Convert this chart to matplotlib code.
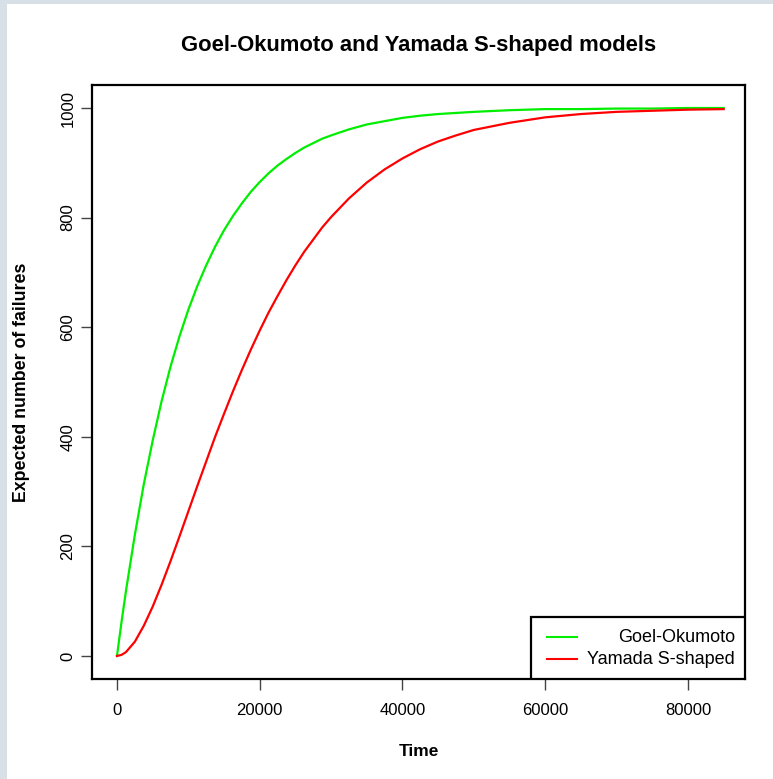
import matplotlib
matplotlib.use("Agg")
import matplotlib.pyplot as plt
from matplotlib.patches import Rectangle
from matplotlib.lines import Line2D

plt.rcParams['font.family'] = ['Liberation Sans', 'DejaVu Sans']

# Data
time = [0, 625, 1250, 2500, 3750, 5000, 6250, 7500, 8750, 10000, 11250, 12500,
        13750, 15000, 16250, 17500, 18750, 20000, 21250, 22500, 23750, 25000,
        26250, 27500, 28750, 30000, 32500, 35000, 37500, 40000, 42500, 45000,
        47500, 50000, 55000, 60000, 65000, 70000, 75000, 80000, 85000]
goel_okumoto = [0, 61, 118, 221, 313, 393, 465, 528, 583, 632, 675, 713,
                747, 777, 803, 826, 847, 865, 881, 895, 907, 918,
                928, 936, 944, 950, 961, 970, 976, 982, 986, 989,
                991, 993, 996, 998, 998, 999, 999, 1000, 1000]
yamada = [0, 2, 7, 26, 55, 90, 130, 173, 218, 264, 310, 355,
          400, 442, 483, 522, 559, 594, 627, 657, 686, 713,
          738, 760, 782, 801, 835, 864, 888, 908, 925, 939,
          950, 960, 973, 983, 989, 993, 995, 997, 998]

labels = ["Goel-Okumoto", "Yamada S-shaped"]
colors = ["#00ee00", "#ff0000"]
xticks = [0, 20000, 40000, 60000, 80000]
yticks = [0, 200, 400, 600, 800, 1000]

W, H = 773, 779
fig = plt.figure(figsize=(W / 100, H / 100), dpi=100)
fig.patch.set_facecolor("white")

# light border strips of the screenshot
fig.patches.append(Rectangle((0, 0), 7 / W, 1, transform=fig.transFigure,
                             facecolor="#d6e0e6", edgecolor="none", zorder=0))
fig.patches.append(Rectangle((0, 1 - 4 / H), 1, 4 / H, transform=fig.transFigure,
                             facecolor="#d6e0e6", edgecolor="none", zorder=0))

ax = fig.add_axes([92 / W, 1 - 679 / H, (745 - 92) / W, (679 - 85) / H])

ax.plot(time, goel_okumoto, color=colors[0], lw=1.6)
ax.plot(time, yamada, color=colors[1], lw=1.6)

ax.set_xlim(-3500, 87990)
ax.set_ylim(-42, 1042)
ax.set_xticks(xticks)
ax.set_yticks(yticks)
ax.set_xticklabels([str(v) for v in xticks], fontsize=12)
ax.set_yticklabels([str(v) for v in yticks], fontsize=12, rotation=90, va="center")
ax.tick_params(axis="x", length=8, width=1, color="#444444", pad=9)
ax.tick_params(axis="y", length=8, width=1, color="#444444", pad=4)
for s in ax.spines.values():
    s.set_linewidth(1.6)
    s.set_color("black")

fig.text(418.5 / W, 1 - 46 / H, "Goel-Okumoto and Yamada S-shaped models",
         fontsize=15.8, fontweight="bold", ha="center", va="center")
fig.text(418.5 / W, 1 - 752 / H, "Time", fontsize=12.5, fontweight="bold",
         ha="center", va="center")
fig.text(22 / W, 1 - 382 / H, "Expected number of failures", fontsize=12.8,
         fontweight="bold", ha="center", va="center", rotation=90)

# legend box (bottom-right, text right-aligned)
lx0 = (531 - 92) / (745 - 92)
ly1 = (679 - 617) / (679 - 85)
ax.add_patch(Rectangle((lx0, 0), 1 - lx0, ly1, transform=ax.transAxes,
                       facecolor="white", edgecolor="black", lw=1.6, zorder=5))
for i, (lab, col) in enumerate(zip(labels, colors)):
    yy = (679 - (637 + 22 * i)) / (679 - 85)
    ax.add_line(Line2D([(547 - 92) / 653, (577 - 92) / 653], [yy, yy],
                       transform=ax.transAxes, color=col, lw=1.5, zorder=6))
    ax.text((735 - 92) / 653, yy, lab, transform=ax.transAxes, ha="right",
            va="center", fontsize=13, zorder=6)

fig.savefig("out.png", dpi=100)
